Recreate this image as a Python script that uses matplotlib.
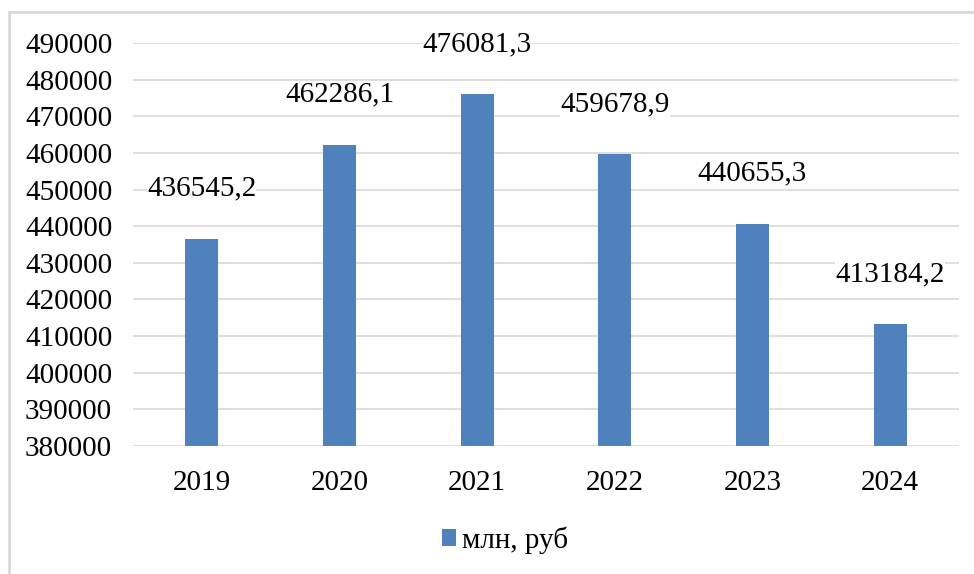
import matplotlib.pyplot as plt
from matplotlib.patches import Rectangle

years = ["2019", "2020", "2021", "2022", "2023", "2024"]
values = [436545.2, 462286.1, 476081.3, 459678.9, 440655.3, 413184.2]
series_name = "млн, руб"

BAR_COLOR = "#4F81BD"
GRID_COLOR = "#D9D9D9"

plt.rcParams["font.family"] = ["Liberation Serif", "DejaVu Serif"]

W, H = 974, 574
fig = plt.figure(figsize=(W / 100, H / 100), dpi=100)
ax = fig.add_axes([133 / W, 1 - 446 / H, (959 - 133) / W, (446 - 43) / H])

x = list(range(len(years)))
ax.bar(x, values, width=0.24, color=BAR_COLOR, zorder=2, label=series_name)

for xi, v in zip(x, values):
    label = f"{v:.1f}".replace(".", ",")
    ax.annotate(label, (xi, v), xytext=(0, 36), textcoords="offset points",
                ha="center", va="center", fontsize=21, color="#000000",
                bbox=dict(facecolor="white", edgecolor="none", pad=0), zorder=3)

ax.set_xlim(-0.5, len(years) - 0.5)
ax.set_ylim(380000, 490000)
ax.set_yticks(range(380000, 490001, 10000))
ax.set_yticklabels([str(t) for t in range(380000, 490001, 10000)])
ax.set_xticks(x)
ax.set_xticklabels(years)
ax.tick_params(axis="y", length=0, pad=15, labelsize=21)
ax.tick_params(axis="x", length=0, pad=17, labelsize=21)
ax.grid(axis="y", color=GRID_COLOR, linewidth=1.2, zorder=0)
ax.set_axisbelow(True)
for spine in ax.spines.values():
    spine.set_visible(False)

fig.legend(loc="center", bbox_to_anchor=(505 / W, 1 - 540 / H), frameon=False,
           fontsize=21, handlelength=0.5, handleheight=0.5, handletextpad=0.2)

fig.add_artist(Rectangle((9 / W, -0.1), 1.2, 1.1 - 12 / H, transform=fig.transFigure,
                         facecolor="none", edgecolor=GRID_COLOR, linewidth=2))

fig.savefig("out.png", dpi=100)
